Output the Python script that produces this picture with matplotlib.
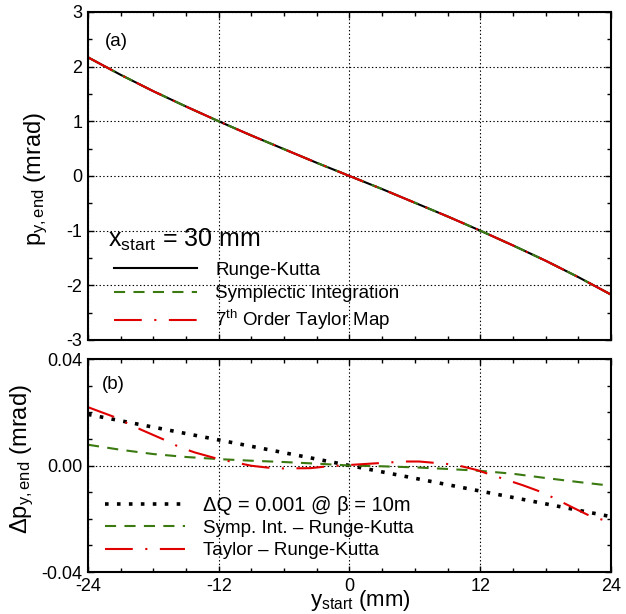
import matplotlib
matplotlib.use("Agg")
import matplotlib.pyplot as plt
from matplotlib.ticker import MultipleLocator, FormatStrFormatter

plt.rcParams['font.family'] = ['Liberation Sans', 'DejaVu Sans']
plt.rcParams['mathtext.fontset'] = 'custom'
plt.rcParams['mathtext.rm'] = 'Liberation Sans'
plt.rcParams['mathtext.it'] = 'Liberation Sans:italic'
plt.rcParams['axes.unicode_minus'] = False
plt.rcParams['lines.scale_dashes'] = False

# y_start (mm) grid for panel (a) and the smooth curves of panel (b)
y_start = [-24, -21, -18, -15, -12, -9, -6, -3, 0, 3, 6, 9, 12, 15, 18, 21, 24]

# panel (a): p_y,end (mrad), the three methods coincide at this scale
p_rk = [2.17, 1.85, 1.55, 1.27, 1.00, 0.74, 0.49, 0.24, 0.00,
        -0.24, -0.49, -0.74, -1.00, -1.27, -1.55, -1.85, -2.17]
p_symp = [2.17, 1.85, 1.55, 1.27, 1.00, 0.74, 0.49, 0.24, 0.00,
          -0.24, -0.49, -0.74, -1.00, -1.27, -1.55, -1.85, -2.17]
p_taylor = [2.17, 1.85, 1.55, 1.27, 1.00, 0.74, 0.49, 0.24, 0.00,
            -0.24, -0.49, -0.74, -1.00, -1.27, -1.55, -1.85, -2.17]

# panel (b): differences (mrad)
dq_line = [0.0192, 0.0168, 0.0144, 0.0120, 0.0096, 0.0072, 0.0048, 0.0024, 0.0,
           -0.0024, -0.0048, -0.0072, -0.0096, -0.0120, -0.0144, -0.0168, -0.0192]
symp_diff = [0.0078, 0.0059, 0.0043, 0.0032, 0.0024, 0.0018, 0.0013, 0.0007, 0.0,
             -0.0003, -0.0007, -0.0013, -0.0020, -0.0031, -0.0047, -0.0062, -0.0076]

y_taylor = [-24, -21.7, -20.4, -19.1, -16.8, -15.6, -14.2, -12, -9.0, -7.5, -6.1,
            -3.6, -2.2, 0, 3.5, 5.0, 6.4, 8.9, 10.3, 11.6, 15.9, 17.3, 18.6,
            20.6, 22.0, 24]
taylor_diff = [0.0219, 0.0184, 0.0159, 0.0134, 0.0093, 0.0069, 0.0049, 0.0024,
               -0.0001, -0.0008, -0.0011, -0.0010, -0.0004, 0.0002, 0.0011, 0.0015,
               0.0015, 0.0006, -0.0003, -0.0016, -0.0074, -0.0095, -0.0119,
               -0.0160, -0.0188, -0.0214]

fig = plt.figure(figsize=(6.26, 6.14), dpi=100)
ax1 = fig.add_axes([0.1406, 0.4463, 0.8354, 0.5342])
ax2 = fig.add_axes([0.1406, 0.0684, 0.8354, 0.3469])

green = '#3a7a10'
red = '#e00000'
dashdot = (0, (20, 9, 1.5, 9))


def style(ax):
    ax.set_xlim(-24, 24)
    ax.xaxis.set_major_locator(MultipleLocator(12))
    ax.xaxis.set_minor_locator(MultipleLocator(3))
    ax.tick_params(which='both', direction='in', top=True, right=True,
                   labelsize=13, width=1.0, color='black', pad=4)
    ax.tick_params(which='major', length=4.5)
    ax.tick_params(which='minor', length=3)
    ax.grid(True, which='major', color='black', linestyle=':', linewidth=0.8)
    for s in ax.spines.values():
        s.set_linewidth(1.5)


# panel (a)
ax1.plot(y_start, p_rk, color='black', lw=1.5, label='Runge-Kutta')
ax1.plot(y_start, p_symp, color=green, lw=1.5, linestyle=(0, (8, 6)),
         label='Symplectic Integration')
ax1.plot(y_start, p_taylor, color=red, lw=1.5, linestyle=dashdot,
         label=r'7$^{\mathrm{th}}$ Order Taylor Map')
style(ax1)
ax1.set_ylim(-3, 3)
ax1.yaxis.set_major_locator(MultipleLocator(1))
ax1.yaxis.set_minor_locator(MultipleLocator(0.5))
ax1.tick_params(axis='x', labelbottom=False)
ax1.set_ylabel(r'p$_{\mathrm{y,end}}$ (mrad)', fontsize=17)
ax1.yaxis.set_label_coords(-0.073, 0.49)
ax1.text(0.033, 0.91, '(a)', transform=ax1.transAxes, fontsize=13.5, va='center')
ax1.text(0.038, 0.305, r'x$_{\mathrm{start}}$ = 30 mm', transform=ax1.transAxes,
         fontsize=18, va='center')
leg1 = ax1.legend(loc='upper left', bbox_to_anchor=(0.05, 0.238), frameon=False,
                  fontsize=13.5, handlelength=4.43, handletextpad=0.96,
                  labelspacing=0.32, borderaxespad=0, borderpad=0)

# panel (b)
ax2.plot(y_start, dq_line, color='black', lw=2.6, linestyle=(0, (2.6, 6)),
         dash_capstyle='butt', label='ΔQ = 0.001 @ β = 10m')
ax2.plot(y_start, symp_diff, color=green, lw=1.5, linestyle=(0, (8, 6)),
         label='Symp. Int. – Runge-Kutta')
ax2.plot(y_taylor, taylor_diff, color=red, lw=1.5, linestyle=dashdot,
         label='Taylor – Runge-Kutta')
style(ax2)
ax2.set_ylim(-0.04, 0.04)
ax2.yaxis.set_major_locator(MultipleLocator(0.04))
ax2.yaxis.set_minor_locator(MultipleLocator(0.01))
ax2.yaxis.set_major_formatter(FormatStrFormatter('%.2f'))
ax2.set_ylabel(r'Δp$_{\mathrm{y,end}}$ (mrad)', fontsize=17)
ax2.yaxis.set_label_coords(-0.10, 0.53)
ax2.set_xlabel(r'y$_{\mathrm{start}}$ (mm)', fontsize=16)
ax2.xaxis.set_label_coords(0.52, -0.077)
ax2.text(0.027, 0.88, '(b)', transform=ax2.transAxes, fontsize=13.5, va='center')
leg2 = ax2.legend(loc='upper left', bbox_to_anchor=(0.0325, 0.358), frameon=False,
                  fontsize=13.5, handlelength=4.27, handletextpad=0.96,
                  labelspacing=0.27, borderaxespad=0, borderpad=0)
leg2.get_texts()[0].set_fontsize(14.5)

fig.savefig('out.png', dpi=100)
